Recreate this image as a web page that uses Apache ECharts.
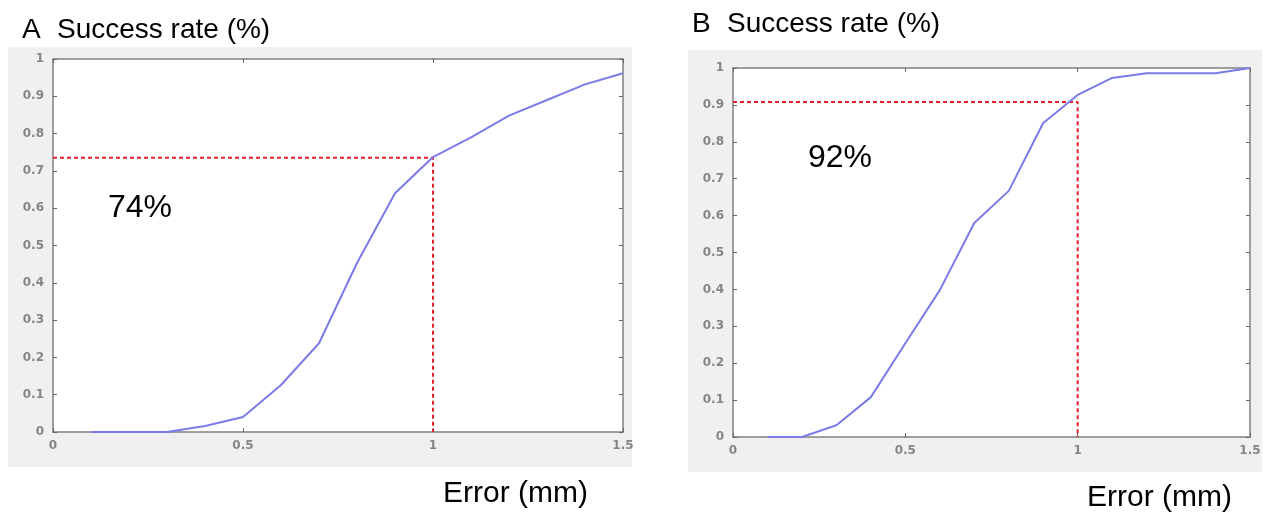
<!DOCTYPE html>
<html>
	<head>
		<meta charset="utf-8">
		<title>Success rate</title>
		<script src="https://cdn.jsdelivr.net/npm/echarts@6/dist/echarts.min.js"></script>
		<style>
			html, body { margin: 0; padding: 0; background: #fff; }
			#main { width: 1277px; height: 512px; }
		</style>
	</head>
	<body>
		<div id="main"></div>
		<script>
			// 数据
			var errorMm = [0.1, 0.2, 0.3, 0.4, 0.5, 0.6, 0.7, 0.8, 0.9, 1.0, 1.1, 1.2, 1.3, 1.4, 1.5];
			var rateA = [0, 0, 0, 0.016, 0.04, 0.126, 0.238, 0.453, 0.64, 0.737, 0.79, 0.848, 0.89, 0.932, 0.962];
			var rateB = [0, 0, 0.032, 0.108, 0.254, 0.398, 0.58, 0.667, 0.851, 0.927, 0.973, 0.986, 0.986, 0.986, 1.0];
			var markA = [1, 0.735];   // 74%
			var markB = [1, 0.908];   // 92%

			function pairs(xs, ys) {
				return xs.map(function (x, i) { return [x, ys[i]]; });
			}
			function guide(m) {
				return [[0, m[1]], [m[0], m[1]], [m[0], 0]];
			}

			var lineColor = '#7b7be8';
			var dashColor = '#e0202c';
			var boxLine = { show: true, onZero: false, lineStyle: { color: '#808080', width: 1.5 } };
			var innerTick = { show: true, inside: true, length: 4, lineStyle: { color: '#666' } };
			var tickLabel = { color: '#858585', fontSize: 12, fontWeight: 'bold', fontFamily: 'DejaVu Sans' };

			function xAxes(gi) {
				return [
					{ gridIndex: gi, type: 'value', min: 0, max: 1.5, interval: 0.5, position: 'bottom',
					  axisLine: boxLine, axisTick: innerTick, splitLine: { show: false },
					  axisLabel: Object.assign({ margin: 8 }, tickLabel) },
					{ gridIndex: gi, type: 'value', min: 0, max: 1.5, interval: 0.5, position: 'top',
					  axisLine: boxLine, axisTick: innerTick, splitLine: { show: false },
					  axisLabel: { show: false } }
				];
			}
			function yAxes(gi) {
				return [
					{ gridIndex: gi, type: 'value', min: 0, max: 1, interval: 0.1, position: 'left',
					  axisLine: boxLine, axisTick: innerTick, splitLine: { show: false },
					  axisLabel: Object.assign({ margin: 9 }, tickLabel) },
					{ gridIndex: gi, type: 'value', min: 0, max: 1, interval: 0.1, position: 'right',
					  axisLine: boxLine, axisTick: innerTick, splitLine: { show: false },
					  axisLabel: { show: false } }
				];
			}

			var txt = function (x, y, s, size) {
				return { type: 'text', left: x, top: y, z: 10,
					style: { text: s, fontSize: size, fontFamily: 'Liberation Sans', fill: '#000' } };
			};

			var myChart = echarts.init(document.getElementById('main'));
			var option = {
				animation: false,
				backgroundColor: '#fff',
				graphic: [
					// 灰色背景
					{ type: 'rect', shape: { x: 8, y: 47, width: 624, height: 420 }, z: -10, style: { fill: '#f0f0f0' } },
					{ type: 'rect', shape: { x: 688, y: 50, width: 574, height: 422 }, z: -10, style: { fill: '#f0f0f0' } },
					txt(22, 16, 'A', 28),
					txt(57, 16, 'Success rate (%)', 28),
					txt(692, 10, 'B', 28),
					txt(727, 10, 'Success rate (%)', 28),
					txt(443, 479, 'Error (mm)', 30),
					txt(1087, 483, 'Error (mm)', 30),
					txt(108, 192, '74%', 32),
					txt(808, 142, '92%', 32)
				],
				grid: [
					{ left: 53, top: 59, width: 570, height: 373, show: true, backgroundColor: '#fff', borderWidth: 0 },
					{ left: 733, top: 68, width: 517, height: 369, show: true, backgroundColor: '#fff', borderWidth: 0 }
				],
				xAxis: xAxes(0).concat(xAxes(1)),
				yAxis: yAxes(0).concat(yAxes(1)),
				series: [
					{ type: 'line', xAxisIndex: 0, yAxisIndex: 0, data: guide(markA), symbol: 'none',
					  lineStyle: { color: dashColor, width: 2, type: [4, 3] } },
					{ type: 'line', xAxisIndex: 0, yAxisIndex: 0, data: pairs(errorMm, rateA), symbol: 'none',
					  lineStyle: { color: lineColor, width: 2 } },
					{ type: 'line', xAxisIndex: 2, yAxisIndex: 2, data: guide(markB), symbol: 'none',
					  lineStyle: { color: dashColor, width: 2, type: [4, 3] } },
					{ type: 'line', xAxisIndex: 2, yAxisIndex: 2, data: pairs(errorMm, rateB), symbol: 'none',
					  lineStyle: { color: lineColor, width: 2 } }
				]
			};
			myChart.setOption(option);
		</script>
	</body>
</html>
